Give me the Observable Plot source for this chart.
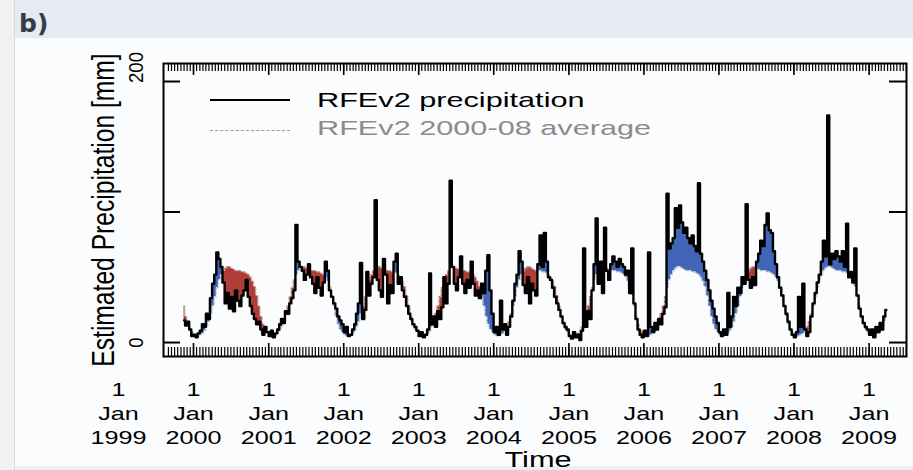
<!DOCTYPE html>
<html><head><meta charset="utf-8">
<script src="https://cdn.jsdelivr.net/npm/d3@7"></script>
<script src="https://cdn.jsdelivr.net/npm/@observablehq/plot@0.6"></script>
<style>
html,body{margin:0;padding:0;}
body{width:913px;height:470px;position:relative;overflow:hidden;background:#eceff3;font-family:"Liberation Sans",Arial,sans-serif;}
#leftband{position:absolute;left:0;top:0;width:14px;height:470px;background:#f1f1f1;border-right:1px solid #d6dae0;}
#hdr{position:absolute;left:15px;top:0;width:898px;height:38px;background:#e5ebf1;}
#panel{position:absolute;left:15px;top:38px;width:898px;height:428px;background:#fbfcfd;}
#tag{position:absolute;left:19px;top:11px;font:bold 25px "DejaVu Sans";line-height:25px;color:#353c46;}
#chart{position:absolute;left:0;top:0;width:913px;height:470px;}
.lgline{position:absolute;left:210px;width:80px;height:0;}
.lgtext{position:absolute;left:317px;font-size:21px;line-height:21px;white-space:nowrap;transform:scaleX(1.46);transform-origin:0 0;}
</style></head>
<body>
<div id="leftband"></div>
<div id="hdr"></div>
<div id="panel"></div>
<div id="tag">b)</div>
<div id="chart"></div>
<div class="lgline" style="top:99px;border-top:2px solid #000;"></div>
<div class="lgtext" id="lg1" style="top:89px;color:#000;"></div>
<div class="lgline" style="top:130px;border-top:1px dashed #9a9a9a;"></div>
<div class="lgtext" id="lg2" style="top:117px;color:#8c8c8c;"></div>
<script>
// ---- data (mm per dekad) ----
const seriesName = "RFEv2 precipitation";
const avgName = "RFEv2 2000-08 average";
const xTitle = "Time";
const yTitle = "Estimated Precipitation [mm]";
const tickYears = [1999, 2000, 2001, 2002, 2003, 2004, 2005, 2006, 2007, 2008, 2009];
const tickDay = "1";
const tickMonth = "Jan";
const yTicks = [0, 100, 200];
const yLabel0 = [0];
const yLabel200 = [200];

// 2000-08 dekadal average (36 dekads, Jan 1st .. Dec 3rd)
const avgDekad = [6,5,5, 6,7,9, 12,16,22, 28,35,42, 48,52,55, 57,58,58, 57,56,55, 55,55,54, 54,53,52, 50,47,43, 36,28,20, 14,10,8];

// RFEv2 dekadal values
const rfe1999 = [17,13,16,10,5]; // Nov 2nd dekad .. Dec 3rd dekad
const rfe2000 = [6,4,7,9,14,12,22,18,34,45, 52,69,64,58,46,30,38,26,35,24, 40,32,28,36,40,48,35,28,22,18, 14,16,10,6,12,8];
const rfe2001 = [5,9,4,7,10,14,18,15,24,22, 30,34,40,90,62,58,55,48,52,60, 50,45,38,50,42,36,46,62,55,40, 35,30,26,20,17,14];
const rfe2002 = [8,12,5,6,10,14,22,30,61,18, 25,54,36,45,50,109,48,40,35,64, 52,30,44,38,62,68,45,50,40,35, 28,22,18,14,12,9];
const rfe2003 = [5,8,4,6,10,53,14,20,12,24, 18,27,50,30,45,124,58,45,40,50, 66,45,38,48,42,62,45,36,40,34, 45,38,55,67,40,22];
const rfe2004 = [8,12,6,32,10,14,6,12,20,32, 45,52,70,62,44,38,50,30,45,40, 36,60,82,58,84,62,50,48,42,35, 30,25,20,15,12,10];
const rfe2005 = [5,3,8,4,6,2,9,72,12,24, 18,40,60,95,45,62,38,88,55,48, 60,66,62,58,64,60,58,52,55,38, 72,30,18,10,6,4];
const rfe2006 = [9,5,69,12,8,15,10,18,14,22, 27,114,72,76,80,103,88,105,92,84, 88,80,76,82,74,70,122,68,62,55, 48,40,32,26,20,15];
const rfe2007 = [8,5,10,6,38,12,20,35,28,42, 38,50,45,106,48,42,50,44,62,68, 78,74,90,99,86,84,70,60,50,42, 36,28,22,16,10,6];
const rfe2008 = [4,8,35,12,45,10,5,8,20,30, 38,46,52,62,78,66,174,60,68,64, 70,66,62,70,58,91,50,54,46,72, 36,26,20,15,12,10];
const rfe2009 = [6,10,4,12,8,15,10,20,25]; // Jan 1st .. Mar 3rd dekad

// ---- build table ----
const yearly = [
  [1999, 31, rfe1999], [2000, 0, rfe2000], [2001, 0, rfe2001], [2002, 0, rfe2002],
  [2003, 0, rfe2003], [2004, 0, rfe2004], [2005, 0, rfe2005], [2006, 0, rfe2006],
  [2007, 0, rfe2007], [2008, 0, rfe2008], [2009, 0, rfe2009]
];
const centerDay = [6, 16, 26];
const rows = [];
for (const [yr, first, vals] of yearly) {
  vals.forEach((v, j) => {
    const d = first + j;
    rows.push({date: new Date(Date.UTC(yr, Math.floor(d / 3), centerDay[d % 3])), v, avg: avgDekad[d]});
  });
}

const xDomain = [new Date(Date.UTC(1999, 7, 8)), new Date(Date.UTC(2009, 6, 2))];
const yearTicks = d3.utcYear.range(new Date(Date.UTC(2000, 0, 1)), xDomain[1]);
const minorTicks = d3.utcMonth.range(xDomain[0], xDomain[1]).flatMap(m => [m, d3.utcDay.offset(m, 15)])
  .filter(d => d >= xDomain[0] && d <= xDomain[1]);

const W = 913 - 163 - 7, H = 470 - 63 - 114;
const blue = "#4265b8", red = "#b03d36";

const chart = Plot.plot({
  width: 913, height: 470,
  marginLeft: 163, marginRight: 7, marginTop: 63, marginBottom: 114,
  style: {background: "transparent", fontFamily: "Liberation Sans, Arial, sans-serif", color: "black", overflow: "visible"},
  x: {type: "utc", domain: xDomain, axis: null},
  y: {domain: [-10.7, 213.8], axis: null},
  marks: [
    Plot.areaY(rows, {x: "date", y1: "avg", y2: d => Math.max(d.v, d.avg), curve: "step", fill: blue}),
    Plot.areaY(rows, {x: "date", y1: d => Math.min(d.v, d.avg), y2: "avg", curve: "step", fill: red}),
    Plot.lineY(rows, {x: "date", y: "avg", curve: "step", stroke: "#bdbdbd", strokeWidth: 1, strokeDasharray: "2,2"}),
    Plot.lineY(rows, {x: "date", y: "v", curve: "step", stroke: "black", strokeWidth: 2.4}),
    Plot.ruleX(minorTicks, {insetTop: H - 9, stroke: "black", strokeWidth: 1.2}),
    Plot.ruleX(minorTicks, {insetBottom: H - 8, stroke: "black", strokeWidth: 1.2}),
    Plot.ruleX(yearTicks, {insetTop: H - 13, stroke: "black", strokeWidth: 1.6}),
    Plot.ruleX(yearTicks, {insetBottom: H - 12, stroke: "black", strokeWidth: 1.6}),
    Plot.ruleY(yTicks, {insetRight: W - 17, stroke: "black", strokeWidth: 2}),
    Plot.ruleY(yTicks, {insetLeft: W - 17, stroke: "black", strokeWidth: 2}),
    Plot.frame({stroke: "black", strokeWidth: 2}),
    Plot.text(tickYears, {x: d => new Date(Date.UTC(d, 0, 1)), text: d => `${tickDay}\n${tickMonth}\n${d}`,
      frameAnchor: "bottom", textAnchor: "middle", lineAnchor: "top", dy: 22, fontSize: 18, lineHeight: 1.333, fill: "black"}),
    Plot.text([xTitle], {text: d => d, frameAnchor: "bottom", textAnchor: "middle", lineAnchor: "bottom", dy: 110, dx: 3, fontSize: 22, fill: "black"}),
    Plot.text([yTitle], {text: d => d, frameAnchor: "left", textAnchor: "middle", dx: -50, rotate: -90, lineAnchor: "bottom", fontSize: 22, fill: "black"}),
    Plot.text(yLabel0, {y: d => d, text: d => String(d), frameAnchor: "left", textAnchor: "middle", dx: -21, rotate: -90, lineAnchor: "bottom", fontSize: 18, fill: "black"}),
    Plot.text(yLabel200, {y: d => d, text: d => String(d), frameAnchor: "left", textAnchor: "middle", dx: -21, dy: -14, rotate: -90, lineAnchor: "bottom", fontSize: 18, fill: "black"})
  ]
});
document.getElementById("chart").appendChild(chart);

// stretch glyphs to match the reference's wide lettering
const svg = chart.tagName.toLowerCase() === "svg" ? chart : chart.querySelector("svg");
svg.querySelectorAll("text").forEach(t => {
  let tr = t.getAttribute("transform") || "";
  const x = t.getAttribute("x"), y = t.getAttribute("y");
  if (x !== null || y !== null) { tr += ` translate(${x || 0},${y || 0})`; t.removeAttribute("x"); t.removeAttribute("y"); }
  const s = t.textContent;
  let sc;
  if (s === yTitle) sc = "scale(1.12,1.4)";
  else if (s === "0" || s === "200") sc = "scale(1.03,1.16)";
  else sc = "scale(1.4,1)";
  t.setAttribute("transform", (tr + " " + sc).trim());
});

document.getElementById("lg1").textContent = seriesName;
document.getElementById("lg2").textContent = avgName;
</script>
</body></html>
